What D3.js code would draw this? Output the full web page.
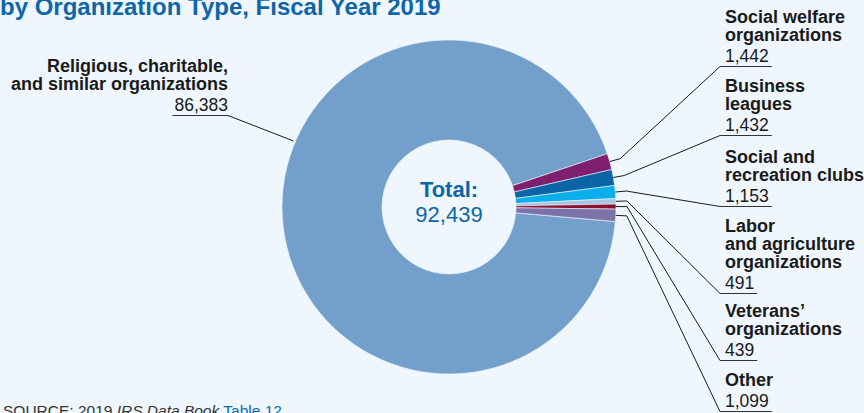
<!DOCTYPE html>
<html>
<head>
<meta charset="utf-8">
<script src="https://cdn.jsdelivr.net/npm/d3@7"></script>
<style>
  html, body { margin: 0; padding: 0; background: #eff6fd; }
  svg { display: block; font-family: "Liberation Sans", Arial, Helvetica, sans-serif; }
</style>
</head>
<body>
<svg id="chart" width="864" height="413"></svg>
<script>
// Exempt organization applications by type, FY2019
const categories = [
  "Religious, charitable, and similar organizations",
  "Social welfare organizations",
  "Business leagues",
  "Social and recreation clubs",
  "Labor and agriculture organizations",
  "Veterans’ organizations",
  "Other"
];
const counts = [86383, 1442, 1432, 1153, 491, 439, 1099];
const labelLines = [
  ["Religious, charitable,", "and similar organizations"],
  ["Social welfare", "organizations"],
  ["Business", "leagues"],
  ["Social and", "recreation clubs"],
  ["Labor", "and agriculture", "organizations"],
  ["Veterans’", "organizations"],
  ["Other"]
];
const sliceColors = ["#73a0cb", "#7f1f70", "#0b64a6", "#0aaeea", "#a8c6e3", "#8a0f2e", "#7c72a7"];
const totalLabel = "Total:";
const totalValue = 92439;

const fmt = d3.format(",");
const svg = d3.select("#chart");
const W = 864, H = 413;
svg.append("rect").attr("width", W).attr("height", H).attr("fill", "#eff6fd");

const cx = 449, cy = 207, rOuter = 167, rInner = 67, rElbow = 178;
const deg = Math.PI / 180;

const pie = d3.pie().sort(null).value(d => d)
  .startAngle(95 * deg).endAngle(95 * deg + 2 * Math.PI);
const arcs = pie(counts);
const arc = d3.arc().innerRadius(rInner).outerRadius(rOuter);

const g = svg.append("g").attr("transform", `translate(${cx},${cy})`);
g.selectAll("path.slice").data(arcs).join("path")
  .attr("class", "slice")
  .attr("d", arc)
  .attr("fill", (d, i) => sliceColors[i])
  .attr("stroke", "#eff6fd")
  .attr("stroke-width", 0.6);

// Centre total
g.append("text").attr("text-anchor", "middle").attr("y", -10)
  .attr("font-size", 22).attr("font-weight", "bold").attr("fill", "#0e66a9")
  .text(totalLabel);
g.append("text").attr("text-anchor", "middle").attr("y", 15)
  .attr("font-size", 22).attr("fill", "#0e66a9")
  .text(fmt(totalValue));

// Title
svg.append("text").attr("x", 0).attr("y", 15)
  .attr("font-size", 24).attr("font-weight", "bold").attr("fill", "#0e66a9")
  .text("by Organization Type, Fiscal Year 2019");

// Source note
const src = svg.append("text").attr("x", 3).attr("y", 416)
  .attr("font-size", 15.5).attr("fill", "#333");
src.append("tspan").text("SOURCE: 2019 ");
src.append("tspan").attr("font-style", "italic").text("IRS Data Book");
src.append("tspan").text(" ");
src.append("tspan").attr("fill", "#0b6ab0").text("Table 12");

const polar = (r, a) => [cx + r * Math.sin(a), cy - r * Math.cos(a)];
const textColor = "#1a1a1a";
const fsBold = 18, fsNum = 17.5, lineStep = 18, numStep = 20.5, ulOffset = 5;

// Right-hand labels (slices 1..6)
const rightX = 725;
const rightTop = [23, 92, 163, 232, 317, 386];
arcs.slice(1).forEach((a, k) => {
  const i = k + 1;
  const lines = labelLines[i];
  const y0 = rightTop[k];
  const t = svg.append("g");
  lines.forEach((ln, j) => {
    t.append("text").attr("x", rightX).attr("y", y0 + j * lineStep)
      .attr("font-size", fsBold).attr("font-weight", "bold").attr("fill", textColor).text(ln);
  });
  const ny = y0 + (lines.length - 1) * lineStep + numStep;
  const num = t.append("text").attr("x", rightX).attr("y", ny)
    .attr("font-size", fsNum).attr("fill", textColor).text(fmt(counts[i]));
  const w = num.node().getComputedTextLength();
  const uy = ny + ulOffset;
  const ux0 = rightX - 5;
  svg.append("line").attr("x1", ux0).attr("x2", rightX + w + 3)
    .attr("y1", uy).attr("y2", uy).attr("stroke", "#333").attr("stroke-width", 1);
  const mid = (a.startAngle + a.endAngle) / 2;
  const p1 = polar(rOuter, mid), p2 = polar(rElbow, mid);
  svg.append("polyline").attr("points", [p1, p2, [ux0, uy]].map(p => p.join(",")).join(" "))
    .attr("fill", "none").attr("stroke", "#1a1a1a").attr("stroke-width", 1);
});

// Left-hand label (slice 0)
{
  const leftX = 228, y0 = 72;
  const lines = labelLines[0];
  lines.forEach((ln, j) => {
    svg.append("text").attr("x", leftX).attr("y", y0 + j * lineStep).attr("text-anchor", "end")
      .attr("font-size", fsBold).attr("font-weight", "bold").attr("fill", textColor).text(ln);
  });
  const ny = y0 + (lines.length - 1) * lineStep + numStep;
  const num = svg.append("text").attr("x", leftX).attr("y", ny).attr("text-anchor", "end")
    .attr("font-size", fsNum).attr("fill", textColor).text(fmt(counts[0]));
  const w = num.node().getComputedTextLength();
  const uy = ny + ulOffset;
  svg.append("line").attr("x1", leftX - w - 2).attr("x2", leftX)
    .attr("y1", uy).attr("y2", uy).attr("stroke", "#333").attr("stroke-width", 1);
  const p = polar(rOuter + 2, 293 * deg);
  svg.append("line").attr("x1", leftX).attr("y1", uy).attr("x2", p[0]).attr("y2", p[1])
    .attr("stroke", "#1a1a1a").attr("stroke-width", 1);
}
</script>
</body>
</html>
